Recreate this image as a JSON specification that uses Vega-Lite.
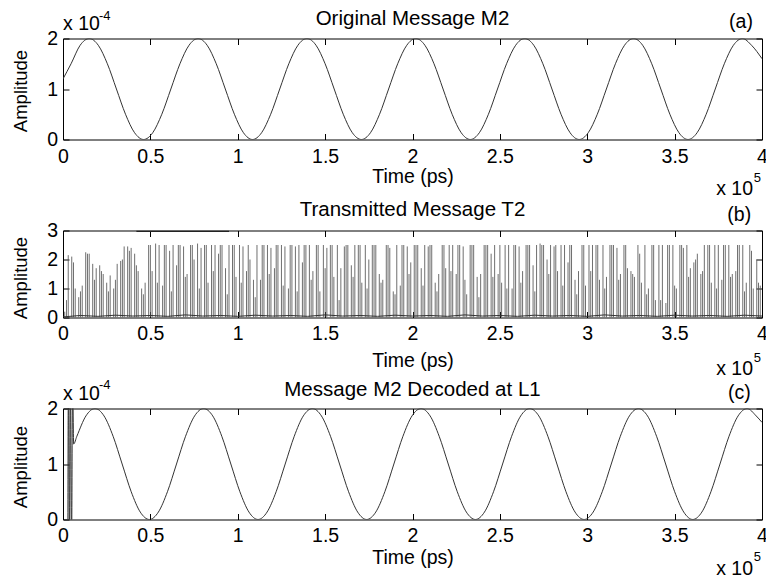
{
"$schema": "https://vega.github.io/schema/vega-lite/v6.json",
"background": "white",
"padding": {"left": 11, "top": 8.5, "right": 0, "bottom": 0},
"config": {
  "font": "Liberation Sans",
  "view": {"stroke": null},
  "axis": {"grid": false, "domainColor": "#000", "tickColor": "#000", "labelColor": "#000", "titleColor": "#000", "labelFontSize": 19.5, "titleFontSize": 19.5, "titleFontWeight": "normal", "labelFlush": false, "labelOverlap": false, "labelBound": false, "tickSize": -6, "domainWidth": 1, "tickWidth": 1},
  "text": {"fontSize": 19.5, "fill": "#000", "font": "Liberation Sans"}
},
"datasets": {
  "m2": [
    {"t":0,"a":1.2e-4},{"t":4616,"a":1.5e-4},{"t":9808,"a":1.866e-4},
    {"t":15000,"a":2e-4},{"t":20192,"a":1.866e-4},{"t":25384,"a":1.5e-4},{"t":30576,"a":1e-4},{"t":35768,"a":5e-5},{"t":40960,"a":1.34e-5},{"t":46152,"a":0},{"t":51344,"a":1.34e-5},{"t":56536,"a":5e-5},{"t":61728,"a":1e-4},{"t":66920,"a":1.5e-4},{"t":72112,"a":1.866e-4},
    {"t":77304,"a":2e-4},{"t":82496,"a":1.866e-4},{"t":87688,"a":1.5e-4},{"t":92880,"a":1e-4},{"t":98072,"a":5e-5},{"t":103264,"a":1.34e-5},{"t":108456,"a":0},{"t":113648,"a":1.34e-5},{"t":118840,"a":5e-5},{"t":124032,"a":1e-4},{"t":129224,"a":1.5e-4},{"t":134416,"a":1.866e-4},
    {"t":139608,"a":2e-4},{"t":144800,"a":1.866e-4},{"t":149992,"a":1.5e-4},{"t":155184,"a":1e-4},{"t":160376,"a":5e-5},{"t":165568,"a":1.34e-5},{"t":170760,"a":0},{"t":175952,"a":1.34e-5},{"t":181144,"a":5e-5},{"t":186336,"a":1e-4},{"t":191528,"a":1.5e-4},{"t":196720,"a":1.866e-4},
    {"t":201912,"a":2e-4},{"t":207104,"a":1.866e-4},{"t":212296,"a":1.5e-4},{"t":217488,"a":1e-4},{"t":222680,"a":5e-5},{"t":227872,"a":1.34e-5},{"t":233064,"a":0},{"t":238256,"a":1.34e-5},{"t":243448,"a":5e-5},{"t":248640,"a":1e-4},{"t":253832,"a":1.5e-4},{"t":259024,"a":1.866e-4},
    {"t":264216,"a":2e-4},{"t":269408,"a":1.866e-4},{"t":274600,"a":1.5e-4},{"t":279792,"a":1e-4},{"t":284984,"a":5e-5},{"t":290176,"a":1.34e-5},{"t":295368,"a":0},{"t":300560,"a":1.34e-5},{"t":305752,"a":5e-5},{"t":310944,"a":1e-4},{"t":316136,"a":1.5e-4},{"t":321328,"a":1.866e-4},
    {"t":326520,"a":2e-4},{"t":331712,"a":1.866e-4},{"t":336904,"a":1.5e-4},{"t":342096,"a":1e-4},{"t":347288,"a":5e-5},{"t":352480,"a":1.34e-5},{"t":357672,"a":0},{"t":362864,"a":1.34e-5},{"t":368056,"a":5e-5},{"t":373248,"a":1e-4},{"t":378440,"a":1.5e-4},{"t":383632,"a":1.866e-4},
    {"t":388824,"a":2e-4},{"t":394016,"a":1.866e-4},{"t":400000,"a":1.6e-4}
  ],
  "t2": [
    {"t":1000,"h":0.2},{"t":3000,"h":2.15},{"t":5000,"h":2.1},{"t":7000,"h":1.0},{"t":9000,"h":0.7},{"t":11000,"h":1.1},{"t":13000,"h":2.25},{"t":15000,"h":2.2},{"t":17000,"h":1.85},{"t":19000,"h":1.7},
    {"t":21000,"h":1.8},{"t":23000,"h":1.5},{"t":25000,"h":1.2},{"t":27000,"h":1.45},{"t":29000,"h":1.0},{"t":31000,"h":1.85},{"t":33000,"h":1.95},{"t":35000,"h":2.45},{"t":37000,"h":2.45},{"t":39000,"h":2.4},
    {"t":41000,"h":2.2},{"t":43000,"h":1.6},{"t":45000,"h":1.0},{"t":47000,"h":1.2},{"t":49000,"h":2.5},{"t":51000,"h":1.6},{"t":53000,"h":2.55},{"t":55000,"h":2.5},{"t":57000,"h":1.1},{"t":59000,"h":2.5},
    {"t":61000,"h":2.3},{"t":63000,"h":2.5},{"t":65000,"h":1.8},{"t":67000,"h":2.5},{"t":69000,"h":2.45},{"t":71000,"h":1.5},{"t":73000,"h":2.5},{"t":75000,"h":2.0},{"t":77000,"h":2.55},{"t":79000,"h":2.4},
    {"t":81000,"h":2.5},{"t":83000,"h":1.2},{"t":85000,"h":2.5},{"t":87000,"h":2.5},{"t":89000,"h":2.2},{"t":91000,"h":2.5},{"t":93000,"h":1.7},{"t":95000,"h":2.5},{"t":97000,"h":2.5},{"t":99000,"h":1.4},
    {"t":101000,"h":2.5},{"t":103000,"h":2.45},{"t":105000,"h":1.6},{"t":107000,"h":2.0},{"t":109000,"h":1.3},{"t":111000,"h":2.5},{"t":113000,"h":1.3},{"t":115000,"h":2.5},{"t":117000,"h":2.5},{"t":119000,"h":2.4},
    {"t":121000,"h":1.7},{"t":123000,"h":2.5},{"t":125000,"h":2.5},{"t":127000,"h":2.45},{"t":129000,"h":1.0},{"t":131000,"h":2.5},{"t":133000,"h":2.45},{"t":135000,"h":2.5},{"t":137000,"h":1.9},{"t":139000,"h":2.5},
    {"t":141000,"h":2.5},{"t":143000,"h":1.6},{"t":145000,"h":2.5},{"t":147000,"h":0.9},{"t":149000,"h":2.5},{"t":151000,"h":2.4},{"t":153000,"h":2.5},{"t":155000,"h":1.4},{"t":157000,"h":2.5},{"t":159000,"h":1.7},
    {"t":161000,"h":2.45},{"t":163000,"h":2.5},{"t":165000,"h":1.8},{"t":167000,"h":2.5},{"t":169000,"h":2.5},{"t":171000,"h":1.2},{"t":173000,"h":2.5},{"t":175000,"h":2.0},{"t":177000,"h":2.5},{"t":179000,"h":2.5},
    {"t":181000,"h":1.5},{"t":183000,"h":1.3},{"t":185000,"h":2.5},{"t":187000,"h":2.4},{"t":189000,"h":0.9},{"t":191000,"h":2.5},{"t":193000,"h":1.1},{"t":195000,"h":2.5},{"t":197000,"h":2.45},{"t":199000,"h":1.9},
    {"t":201000,"h":2.5},{"t":203000,"h":2.5},{"t":205000,"h":1.7},{"t":207000,"h":2.5},{"t":209000,"h":2.45},{"t":211000,"h":2.5},{"t":213000,"h":1.2},{"t":215000,"h":1.5},{"t":217000,"h":2.5},{"t":219000,"h":1.7},
    {"t":221000,"h":2.5},{"t":223000,"h":2.5},{"t":225000,"h":1.5},{"t":227000,"h":2.5},{"t":229000,"h":2.45},{"t":231000,"h":0.8},{"t":233000,"h":2.5},{"t":235000,"h":2.5},{"t":237000,"h":1.4},{"t":239000,"h":1.5},
    {"t":241000,"h":2.5},{"t":243000,"h":2.5},{"t":245000,"h":2.2},{"t":247000,"h":2.5},{"t":249000,"h":1.5},{"t":251000,"h":1.2},{"t":253000,"h":2.5},{"t":255000,"h":2.5},{"t":257000,"h":1.0},{"t":259000,"h":2.5},
    {"t":261000,"h":2.45},{"t":263000,"h":1.6},{"t":265000,"h":2.5},{"t":267000,"h":2.5},{"t":269000,"h":1.8},{"t":271000,"h":2.5},{"t":273000,"h":2.55},{"t":275000,"h":2.5},{"t":277000,"h":2.0},{"t":279000,"h":2.5},
    {"t":281000,"h":2.45},{"t":283000,"h":1.6},{"t":285000,"h":2.5},{"t":287000,"h":2.5},{"t":289000,"h":1.9},{"t":291000,"h":2.5},{"t":293000,"h":1.3},{"t":295000,"h":1.6},{"t":297000,"h":2.5},{"t":299000,"h":1.1},
    {"t":301000,"h":2.5},{"t":303000,"h":2.5},{"t":305000,"h":2.5},{"t":307000,"h":1.3},{"t":309000,"h":2.5},{"t":311000,"h":1.4},{"t":313000,"h":2.5},{"t":315000,"h":2.5},{"t":317000,"h":2.4},{"t":319000,"h":1.5},
    {"t":321000,"h":2.5},{"t":323000,"h":1.7},{"t":325000,"h":1.6},{"t":327000,"h":1.4},{"t":329000,"h":2.5},{"t":331000,"h":1.2},{"t":333000,"h":2.5},{"t":335000,"h":1.0},{"t":337000,"h":2.5},{"t":339000,"h":0.6},
    {"t":341000,"h":2.5},{"t":343000,"h":2.5},{"t":345000,"h":0.5},{"t":347000,"h":2.5},{"t":349000,"h":2.5},{"t":351000,"h":1.0},{"t":353000,"h":2.5},{"t":355000,"h":2.4},{"t":357000,"h":2.5},{"t":359000,"h":1.7},
    {"t":361000,"h":1.9},{"t":363000,"h":2.2},{"t":365000,"h":1.5},{"t":367000,"h":2.5},{"t":369000,"h":2.5},{"t":371000,"h":1.2},{"t":373000,"h":2.5},{"t":375000,"h":2.5},{"t":377000,"h":1.3},{"t":379000,"h":2.5},
    {"t":381000,"h":2.5},{"t":383000,"h":1.5},{"t":385000,"h":1.6},{"t":387000,"h":2.5},{"t":389000,"h":2.5},{"t":391000,"h":1.2},{"t":393000,"h":2.5},{"t":395000,"h":1.0},{"t":397000,"h":2.0},{"t":399000,"h":1.1},
    {"t":2000,"h":0.6},{"t":6000,"h":1.9},{"t":10000,"h":0.9},{"t":14000,"h":2.2},{"t":18000,"h":1.3},{"t":22000,"h":1.6},{"t":26000,"h":0.9},{"t":30000,"h":1.3},{"t":34000,"h":2.0},{"t":38000,"h":2.3},
    {"t":42000,"h":1.8},{"t":46000,"h":0.8},{"t":50000,"h":2.5},{"t":54000,"h":1.2},{"t":58000,"h":2.5},{"t":62000,"h":0.9},{"t":66000,"h":2.5},{"t":70000,"h":1.4},{"t":74000,"h":2.5},{"t":78000,"h":1.0},
    {"t":82000,"h":2.5},{"t":86000,"h":1.6},{"t":90000,"h":2.5},{"t":94000,"h":0.8},{"t":98000,"h":2.5},{"t":102000,"h":1.2},{"t":106000,"h":2.5},{"t":110000,"h":0.7},{"t":114000,"h":2.5},{"t":118000,"h":1.5},
    {"t":122000,"h":2.5},{"t":126000,"h":1.1},{"t":130000,"h":2.5},{"t":134000,"h":0.9},{"t":138000,"h":2.5},{"t":142000,"h":1.3},{"t":146000,"h":2.5},{"t":150000,"h":1.7},{"t":154000,"h":2.5},{"t":158000,"h":0.6},
    {"t":162000,"h":2.5},{"t":166000,"h":1.4},{"t":170000,"h":2.5},{"t":174000,"h":1.0},{"t":178000,"h":2.5},{"t":182000,"h":1.2},{"t":186000,"h":2.5},{"t":190000,"h":0.8},{"t":194000,"h":2.5},{"t":198000,"h":1.5},
    {"t":202000,"h":2.5},{"t":206000,"h":1.1},{"t":210000,"h":2.5},{"t":214000,"h":0.9},{"t":218000,"h":2.5},{"t":222000,"h":1.6},{"t":226000,"h":2.5},{"t":230000,"h":1.3},{"t":234000,"h":2.5},{"t":238000,"h":0.7},
    {"t":242000,"h":2.5},{"t":246000,"h":1.4},{"t":250000,"h":2.5},{"t":254000,"h":1.0},{"t":258000,"h":2.5},{"t":262000,"h":1.2},{"t":266000,"h":2.5},{"t":270000,"h":0.9},{"t":274000,"h":2.5},{"t":278000,"h":1.5},
    {"t":282000,"h":2.5},{"t":286000,"h":1.1},{"t":290000,"h":2.5},{"t":294000,"h":0.8},{"t":298000,"h":2.5},{"t":302000,"h":1.6},{"t":306000,"h":2.5},{"t":310000,"h":1.0},{"t":314000,"h":2.5},{"t":318000,"h":1.3},
    {"t":322000,"h":2.5},{"t":326000,"h":1.5},{"t":330000,"h":2.2},{"t":334000,"h":0.8},{"t":338000,"h":2.5},{"t":342000,"h":0.6},{"t":346000,"h":2.5},{"t":350000,"h":1.1},{"t":354000,"h":2.5},{"t":358000,"h":1.4},
    {"t":362000,"h":2.0},{"t":366000,"h":1.6},{"t":370000,"h":2.5},{"t":374000,"h":1.0},{"t":378000,"h":2.5},{"t":382000,"h":1.4},{"t":386000,"h":2.5},{"t":390000,"h":0.9},{"t":394000,"h":2.3},{"t":398000,"h":1.2}
  ],
  "t2base": [
    {"t":0,"a":0.02},{"t":10000,"a":0.07},{"t":20000,"a":0.04},{"t":30000,"a":0.08},{"t":40000,"a":0.05},{"t":50000,"a":0.07},{"t":60000,"a":0.04},{"t":70000,"a":0.09},{"t":80000,"a":0.05},{"t":90000,"a":0.07},
    {"t":100000,"a":0.04},{"t":110000,"a":0.08},{"t":120000,"a":0.05},{"t":130000,"a":0.07},{"t":140000,"a":0.04},{"t":150000,"a":0.09},{"t":160000,"a":0.05},{"t":170000,"a":0.07},{"t":180000,"a":0.04},{"t":190000,"a":0.08},
    {"t":200000,"a":0.05},{"t":210000,"a":0.07},{"t":220000,"a":0.04},{"t":230000,"a":0.09},{"t":240000,"a":0.05},{"t":250000,"a":0.07},{"t":260000,"a":0.04},{"t":270000,"a":0.08},{"t":280000,"a":0.05},{"t":290000,"a":0.07},
    {"t":300000,"a":0.04},{"t":310000,"a":0.09},{"t":320000,"a":0.05},{"t":330000,"a":0.07},{"t":340000,"a":0.04},{"t":350000,"a":0.08},{"t":360000,"a":0.05},{"t":370000,"a":0.07},{"t":380000,"a":0.04},{"t":390000,"a":0.08},{"t":400000,"a":0.05}
  ],
  "t2cap": [
    {"t":42000,"a":2.97},{"t":95000,"a":2.97}
  ],
  "d2": [
    {"t":2800,"a":0},{"t":3100,"a":2.6e-4},{"t":3700,"a":-5e-5},{"t":4200,"a":2.6e-4},{"t":4900,"a":-5e-5},{"t":5500,"a":2.6e-4},{"t":6100,"a":1.36e-4},{"t":7933,"a":1.5e-4},{"t":13117,"a":1.866e-4},
    {"t":18300,"a":2e-4},{"t":23483,"a":1.866e-4},{"t":28667,"a":1.5e-4},{"t":33850,"a":1e-4},{"t":39033,"a":5e-5},{"t":44217,"a":1.34e-5},{"t":49400,"a":0},{"t":54583,"a":1.34e-5},{"t":59767,"a":5e-5},{"t":64950,"a":1e-4},{"t":70133,"a":1.5e-4},{"t":75317,"a":1.866e-4},
    {"t":80500,"a":2e-4},{"t":85683,"a":1.866e-4},{"t":90867,"a":1.5e-4},{"t":96050,"a":1e-4},{"t":101233,"a":5e-5},{"t":106417,"a":1.34e-5},{"t":111600,"a":0},{"t":116783,"a":1.34e-5},{"t":121967,"a":5e-5},{"t":127150,"a":1e-4},{"t":132333,"a":1.5e-4},{"t":137517,"a":1.866e-4},
    {"t":142700,"a":2e-4},{"t":147883,"a":1.866e-4},{"t":153067,"a":1.5e-4},{"t":158250,"a":1e-4},{"t":163433,"a":5e-5},{"t":168617,"a":1.34e-5},{"t":173800,"a":0},{"t":178983,"a":1.34e-5},{"t":184167,"a":5e-5},{"t":189350,"a":1e-4},{"t":194533,"a":1.5e-4},{"t":199717,"a":1.866e-4},
    {"t":204900,"a":2e-4},{"t":210083,"a":1.866e-4},{"t":215267,"a":1.5e-4},{"t":220450,"a":1e-4},{"t":225633,"a":5e-5},{"t":230817,"a":1.34e-5},{"t":236000,"a":0},{"t":241183,"a":1.34e-5},{"t":246367,"a":5e-5},{"t":251550,"a":1e-4},{"t":256733,"a":1.5e-4},{"t":261917,"a":1.866e-4},
    {"t":267100,"a":2e-4},{"t":272283,"a":1.866e-4},{"t":277467,"a":1.5e-4},{"t":282650,"a":1e-4},{"t":287833,"a":5e-5},{"t":293017,"a":1.34e-5},{"t":298200,"a":0},{"t":303383,"a":1.34e-5},{"t":308567,"a":5e-5},{"t":313750,"a":1e-4},{"t":318933,"a":1.5e-4},{"t":324117,"a":1.866e-4},
    {"t":329300,"a":2e-4},{"t":334483,"a":1.866e-4},{"t":339667,"a":1.5e-4},{"t":344850,"a":1e-4},{"t":350033,"a":5e-5},{"t":355217,"a":1.34e-5},{"t":360400,"a":0},{"t":365583,"a":1.34e-5},{"t":370767,"a":5e-5},{"t":375950,"a":1e-4},{"t":381133,"a":1.5e-4},{"t":386317,"a":1.866e-4},
    {"t":391500,"a":2e-4},{"t":396683,"a":1.866e-4},{"t":400000,"a":1.75e-4}
  ]
},
"vconcat": [
  {
    "width": 699, "height": 101,
    "layer": [
      {"data": {"name": "m2"},
       "mark": {"type": "line", "interpolate": "monotone", "stroke": "#333", "strokeWidth": 1, "clip": true},
       "encoding": {
         "x": {"field": "t", "type": "quantitative", "scale": {"domain": [0, 400000], "nice": false, "zero": false},
               "axis": {"orient": "bottom", "values": [0,50000,100000,150000,200000,250000,300000,350000,400000], "labelExpr": "datum.value/100000", "labelPadding": 29, "labelBaseline": "alphabetic", "title": "Time (ps)", "titleX": 349.5, "titleY": 43, "titleBaseline": "alphabetic", "titleAlign": "center"}},
         "y": {"field": "a", "type": "quantitative", "scale": {"domain": [0, 0.0002], "nice": false, "zero": false},
               "axis": {"orient": "left", "values": [0, 0.0001, 0.0002], "labelExpr": "round(datum.value*10000)", "labelPadding": 11.5, "labelBaseline": "middle", "title": "Amplitude", "titleFontSize": 18.5, "titleAngle": 270, "titleX": -36.4, "titleY": 52, "titleBaseline": "alphabetic", "titleAlign": "center"}}
       }},
      {"data": {"values": [{}]},
       "mark": {"type": "text", "text": "(a)", "align": "center", "baseline": "alphabetic", "dy": -11},
       "encoding": {
         "x": {"datum": 388000, "type": "quantitative", "scale": {"domain": [0, 400000], "nice": false, "zero": false}, "axis": {"orient": "top", "values": [0,50000,100000,150000,200000,250000,300000,350000,400000], "labels": false, "title": null}},
         "y": {"datum": 0.0002, "type": "quantitative", "scale": {"domain": [0, 0.0002], "nice": false, "zero": false}, "axis": {"orient": "right", "values": [0, 0.0001, 0.0002], "labels": false, "title": null}}
       }},
      {"data": {"values": [{}]},
       "mark": {"type": "text", "text": "Original Message M2", "align": "center", "baseline": "alphabetic", "dy": -14, "fontSize": 20.5},
       "encoding": {"x": {"datum": 200000, "type": "quantitative", "axis": null}, "y": {"datum": 0.0002, "type": "quantitative", "axis": null}}},
      {"data": {"values": [{}]},
       "mark": {"type": "text", "text": "x 10", "align": "left", "baseline": "alphabetic", "dy": -9},
       "encoding": {"x": {"datum": 0, "type": "quantitative", "axis": null}, "y": {"datum": 0.0002, "type": "quantitative", "axis": null}}},
      {"data": {"values": [{}]},
       "mark": {"type": "text", "text": "-4", "align": "left", "baseline": "alphabetic", "dx": 36, "dy": -19, "fontSize": 13},
       "encoding": {"x": {"datum": 0, "type": "quantitative", "axis": null}, "y": {"datum": 0.0002, "type": "quantitative", "axis": null}}},
      {"data": {"values": [{}]},
       "mark": {"type": "text", "text": "x 10", "align": "right", "baseline": "alphabetic", "dx": -9, "dy": 55},
       "encoding": {"x": {"datum": 400000, "type": "quantitative", "axis": null}, "y": {"datum": 0, "type": "quantitative", "axis": null}}},
      {"data": {"values": [{}]},
       "mark": {"type": "text", "text": "5", "align": "right", "baseline": "alphabetic", "dx": -1, "dy": 42, "fontSize": 13},
       "encoding": {"x": {"datum": 400000, "type": "quantitative", "axis": null}, "y": {"datum": 0, "type": "quantitative", "axis": null}}}
    ],
    "resolve": {"axis": {"x": "independent", "y": "independent"}}
  },
  {
    "width": 699, "height": 87,
    "layer": [
      {"data": {"name": "t2"},
       "mark": {"type": "rule", "stroke": "#555", "strokeWidth": 0.85, "clip": true},
       "encoding": {
         "x": {"field": "t", "type": "quantitative", "scale": {"domain": [0, 400000], "nice": false, "zero": false},
               "axis": {"orient": "bottom", "values": [0,50000,100000,150000,200000,250000,300000,350000,400000], "labelExpr": "datum.value/100000", "labelPadding": 28, "labelBaseline": "alphabetic", "title": "Time (ps)", "titleX": 349.5, "titleY": 49, "titleBaseline": "alphabetic", "titleAlign": "center"}},
         "y": {"field": "h", "type": "quantitative", "scale": {"domain": [0, 3], "nice": false, "zero": false},
               "axis": {"orient": "left", "values": [0, 1, 2, 3], "labelExpr": "datum.value", "labelPadding": 11.5, "labelBaseline": "middle", "title": "Amplitude", "titleFontSize": 18.5, "titleAngle": 270, "titleX": -36.4, "titleY": 47, "titleBaseline": "alphabetic", "titleAlign": "center"}},
         "y2": {"datum": 0}
       }},
      {"data": {"name": "t2base"},
       "mark": {"type": "line", "stroke": "#333", "strokeWidth": 1, "clip": true},
       "encoding": {"x": {"field": "t", "type": "quantitative", "axis": null}, "y": {"field": "a", "type": "quantitative", "axis": null}}},
      {"data": {"name": "t2cap"},
       "mark": {"type": "line", "stroke": "#222", "strokeWidth": 1.5, "clip": true},
       "encoding": {"x": {"field": "t", "type": "quantitative", "axis": null}, "y": {"field": "a", "type": "quantitative", "axis": null}}},
      {"data": {"values": [{}]},
       "mark": {"type": "text", "text": "(b)", "align": "center", "baseline": "alphabetic", "dy": -10},
       "encoding": {
         "x": {"datum": 387000, "type": "quantitative", "scale": {"domain": [0, 400000], "nice": false, "zero": false}, "axis": {"orient": "top", "values": [0,50000,100000,150000,200000,250000,300000,350000,400000], "labels": false, "title": null}},
         "y": {"datum": 3, "type": "quantitative", "scale": {"domain": [0, 3], "nice": false, "zero": false}, "axis": {"orient": "right", "values": [0, 1, 2, 3], "labels": false, "title": null}}
       }},
      {"data": {"values": [{}]},
       "mark": {"type": "text", "text": "Transmitted Message T2", "align": "center", "baseline": "alphabetic", "dy": -15, "fontSize": 20.5},
       "encoding": {"x": {"datum": 200000, "type": "quantitative", "axis": null}, "y": {"datum": 3, "type": "quantitative", "axis": null}}},
      {"data": {"values": [{}]},
       "mark": {"type": "text", "text": "x 10", "align": "right", "baseline": "alphabetic", "dx": -9, "dy": 57},
       "encoding": {"x": {"datum": 400000, "type": "quantitative", "axis": null}, "y": {"datum": 0, "type": "quantitative", "axis": null}}},
      {"data": {"values": [{}]},
       "mark": {"type": "text", "text": "5", "align": "right", "baseline": "alphabetic", "dx": -1, "dy": 44, "fontSize": 13},
       "encoding": {"x": {"datum": 400000, "type": "quantitative", "axis": null}, "y": {"datum": 0, "type": "quantitative", "axis": null}}}
    ],
    "resolve": {"axis": {"x": "independent", "y": "independent"}}
  },
  {
    "width": 699, "height": 111,
    "layer": [
      {"data": {"name": "d2"},
       "mark": {"type": "line", "interpolate": "monotone", "stroke": "#333", "strokeWidth": 1, "clip": true},
       "encoding": {
         "x": {"field": "t", "type": "quantitative", "scale": {"domain": [0, 400000], "nice": false, "zero": false},
               "axis": {"orient": "bottom", "values": [0,50000,100000,150000,200000,250000,300000,350000,400000], "labelExpr": "datum.value/100000", "labelPadding": 28, "labelBaseline": "alphabetic", "title": "Time (ps)", "titleX": 349.5, "titleY": 44, "titleBaseline": "alphabetic", "titleAlign": "center"}},
         "y": {"field": "a", "type": "quantitative", "scale": {"domain": [0, 0.0002], "nice": false, "zero": false},
               "axis": {"orient": "left", "values": [0, 0.0001, 0.0002], "labelExpr": "round(datum.value*10000)", "labelPadding": 11.5, "labelBaseline": "middle", "title": "Amplitude", "titleFontSize": 18.5, "titleAngle": 270, "titleX": -36.4, "titleY": 58, "titleBaseline": "alphabetic", "titleAlign": "center"}}
       }},
      {"data": {"values": [{}]},
       "mark": {"type": "text", "text": "(c)", "align": "center", "baseline": "alphabetic", "dy": -9.5},
       "encoding": {
         "x": {"datum": 387000, "type": "quantitative", "scale": {"domain": [0, 400000], "nice": false, "zero": false}, "axis": {"orient": "top", "values": [0,50000,100000,150000,200000,250000,300000,350000,400000], "labels": false, "title": null}},
         "y": {"datum": 0.0002, "type": "quantitative", "scale": {"domain": [0, 0.0002], "nice": false, "zero": false}, "axis": {"orient": "right", "values": [0, 0.0001, 0.0002], "labels": false, "title": null}}
       }},
      {"data": {"values": [{}]},
       "mark": {"type": "text", "text": "Message M2 Decoded at L1", "align": "center", "baseline": "alphabetic", "dy": -13, "fontSize": 20.5},
       "encoding": {"x": {"datum": 200000, "type": "quantitative", "axis": null}, "y": {"datum": 0.0002, "type": "quantitative", "axis": null}}},
      {"data": {"values": [{}]},
       "mark": {"type": "text", "text": "x 10", "align": "left", "baseline": "alphabetic", "dy": -9},
       "encoding": {"x": {"datum": 0, "type": "quantitative", "axis": null}, "y": {"datum": 0.0002, "type": "quantitative", "axis": null}}},
      {"data": {"values": [{}]},
       "mark": {"type": "text", "text": "-4", "align": "left", "baseline": "alphabetic", "dx": 36, "dy": -20, "fontSize": 13},
       "encoding": {"x": {"datum": 0, "type": "quantitative", "axis": null}, "y": {"datum": 0.0002, "type": "quantitative", "axis": null}}},
      {"data": {"values": [{}]},
       "mark": {"type": "text", "text": "x 10", "align": "right", "baseline": "alphabetic", "dx": -9, "dy": 55},
       "encoding": {"x": {"datum": 400000, "type": "quantitative", "axis": null}, "y": {"datum": 0, "type": "quantitative", "axis": null}}},
      {"data": {"values": [{}]},
       "mark": {"type": "text", "text": "5", "align": "right", "baseline": "alphabetic", "dx": -1, "dy": 41, "fontSize": 13},
       "encoding": {"x": {"datum": 400000, "type": "quantitative", "axis": null}, "y": {"datum": 0, "type": "quantitative", "axis": null}}}
    ],
    "resolve": {"axis": {"x": "independent", "y": "independent"}}
  }
],
"spacing": 91,
"bounds": "flush"
}
